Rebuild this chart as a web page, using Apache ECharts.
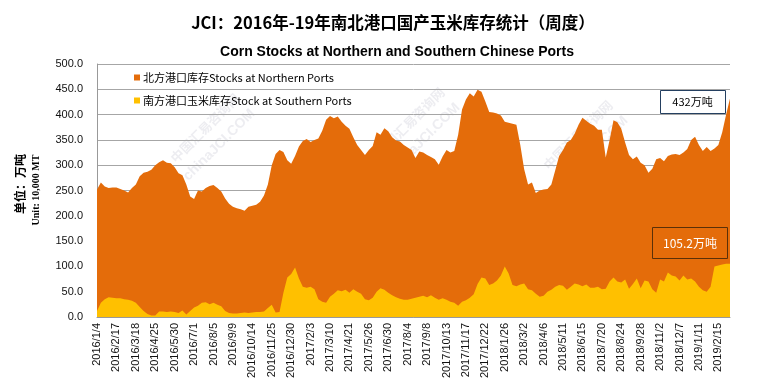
<!DOCTYPE html>
<html>
<head>
<meta charset="utf-8">
<script src="https://cdn.jsdelivr.net/npm/echarts@6/dist/echarts.min.js"></script>
<style>
html,body{margin:0;padding:0;background:#fff;}
#chart{width:757px;height:389px;}
</style>
</head>
<body>
<div id="chart"></div>
<script>
const tickLabels = ['2016/1/4','2016/2/17','2016/3/18','2016/4/25','2016/5/30','2016/7/1','2016/8/5','2016/9/9','2016/10/14','2016/11/25','2016/12/30','2017/2/3','2017/3/10','2017/4/21','2017/5/26','2017/6/30','2017/8/4','2017/9/8','2017/10/13','2017/11/17','2017/12/22','2018/1/26','2018/3/2','2018/4/6','2018/5/11','2018/6/15','2018/7/20','2018/8/24','2018/9/28','2018/11/2','2018/12/7','2019/1/11','2019/2/15'];

const northern = [
252,266,258,255,256,256,253,250,246,255,
262,278,285,287,291,300,306,310,305,304,
296,284,280,262,238,233,250,248,255,259,
261,255,248,234,224,218,215,213,210,218,
220,222,228,240,262,300,322,330,326,310,
303,318,337,348,352,346,350,353,368,390,
397,393,396,386,378,372,355,340,330,320,
330,338,365,360,373,367,355,349,347,340,
335,330,314,327,325,320,316,312,301,317,
330,325,328,360,410,430,442,436,449,445,
426,405,404,402,398,386,384,382,380,340,
292,262,266,245,250,252,253,262,290,318,
330,345,350,362,380,394,388,382,378,370,
370,315,350,389,385,372,345,320,312,317,
305,300,285,293,312,314,308,318,321,322,
320,325,332,350,356,340,328,336,328,333,
340,365,400,432
];

const southern = [
12,28,35,39,38,37,37,35,34,32,
28,20,12,6,3,3,11,11,10,11,
10,8,13,5,12,19,22,28,29,25,
28,24,21,12,8,7,7,8,9,8,
9,10,10,11,18,24,9,10,48,78,
85,98,76,60,58,60,55,35,30,28,
40,46,53,51,54,48,55,50,46,35,
33,38,50,57,54,48,43,39,36,34,
34,36,38,40,42,39,43,38,34,37,
34,30,28,22,30,33,38,45,65,78,
76,63,66,72,82,100,86,63,61,64,
66,55,53,46,40,42,50,54,60,63,
62,54,60,66,64,61,64,58,58,60,
55,56,70,78,70,68,74,56,65,76,
57,72,70,55,48,74,70,88,82,80,
72,82,74,76,70,60,53,50,60,100,
102,104,105,105.2
];

const categories = northern.map((v, i) => i % 5 === 0 ? tickLabels[i / 5] : tickLabels[Math.floor(i / 5)] + '+' + (i % 5) + 'w');

const ORANGE = '#E46C0A';
const YELLOW = '#FFC000';

const chart = echarts.init(document.getElementById('chart'), null, {renderer: 'canvas'});

function watermark(x, y) {
  return {
    type: 'group', x: x, y: y, rotation: Math.PI / 4, silent: true, z: 5,
    children: [
      {type: 'text', style: {text: '中国汇易咨询网', x: 0, y: 0, fill: 'rgba(215,215,225,0.45)', font: 'bold 13px "Noto Sans CJK SC"', align: 'center', verticalAlign: 'middle'}},
      {type: 'text', style: {text: 'chinaJCI.COM', x: -2, y: 22, fill: 'rgba(215,215,225,0.45)', font: 'bold 14px "Liberation Sans"', align: 'center', verticalAlign: 'middle'}}
    ]
  };
}

chart.setOption({
  animation: false,
  backgroundColor: '#fff',
  title: [
    {text: 'JCI：2016年-19年南北港口国产玉米库存统计（周度）', left: 388, top: 9, textAlign: 'center',
     textStyle: {fontSize: 16.5, fontWeight: 'bold', color: '#000', fontFamily: '"Noto Sans CJK SC"'}},
    {text: 'Corn Stocks at Northern and Southern Chinese Ports', left: 392, top: 40, textAlign: 'center',
     textStyle: {fontSize: 14, fontWeight: 'bold', color: '#000', fontFamily: '"Liberation Sans"'}}
  ],
  legend: {
    orient: 'vertical', left: 129, top: 67, itemGap: 12, itemWidth: 6, itemHeight: 6, icon: 'rect',
    textStyle: {fontSize: 11, color: '#000', fontFamily: '"Noto Sans CJK SC"', padding: [0, 0, 0, -2]},
    data: ['北方港口库存Stocks at Northern Ports', '南方港口玉米库存Stock at Southern Ports']
  },
  grid: {left: 97, right: 27, top: 64, bottom: 72, containLabel: false},
  xAxis: {
    type: 'category', data: categories, boundaryGap: false,
    axisLine: {lineStyle: {color: '#999'}},
    axisTick: {show: false},
    axisLabel: {interval: 4, rotate: 90, fontSize: 11, color: '#111', margin: 6, fontFamily: '"Liberation Sans"'}
  },
  yAxis: {
    type: 'value', min: 0, max: 500, interval: 50,
    axisLine: {show: true, lineStyle: {color: '#999'}},
    axisTick: {show: false},
    axisLabel: {fontSize: 11, color: '#111', margin: 14, fontFamily: '"Liberation Sans"', formatter: v => v.toFixed(1)},
    splitLine: {lineStyle: {color: '#a6a6a6', width: 1}}
  },
  series: [
    {name: '北方港口库存Stocks at Northern Ports', type: 'line', data: northern, showSymbol: false, symbol: 'none',
     lineStyle: {width: 0, color: ORANGE}, itemStyle: {color: ORANGE}, areaStyle: {color: ORANGE, opacity: 1}, z: 2},
    {name: '南方港口玉米库存Stock at Southern Ports', type: 'line', data: southern, showSymbol: false, symbol: 'none',
     lineStyle: {width: 0, color: YELLOW}, itemStyle: {color: YELLOW}, areaStyle: {color: YELLOW, opacity: 1}, z: 3}
  ],
  graphic: [
    {type: 'text', x: 20, y: 184, rotation: Math.PI / 2, style: {text: '单位：万吨', font: 'bold 12px "Noto Sans CJK SC"', fill: '#000', align: 'center', verticalAlign: 'middle'}},
    {type: 'text', x: 36, y: 190, rotation: Math.PI / 2, style: {text: 'Unit: 10,000 MT', font: 'bold 10px "Liberation Serif"', fill: '#000', align: 'center', verticalAlign: 'middle'}},
    watermark(205, 128),
    watermark(410, 122),
    watermark(578, 135),
    {type: 'rect', shape: {x: 660.5, y: 90.5, width: 65, height: 23}, style: {fill: '#fff', stroke: '#243F60', lineWidth: 1}, z: 10},
    {type: 'text', x: 692.5, y: 102, style: {text: '432万吨', font: '11px "Noto Sans CJK SC"', fill: '#000', align: 'center', verticalAlign: 'middle'}, z: 11},
    {type: 'rect', shape: {x: 652.5, y: 227.5, width: 75, height: 31}, style: {fill: ORANGE, stroke: '#5a3008', lineWidth: 1}, z: 10},
    {type: 'text', x: 690, y: 243, style: {text: '105.2万吨', font: '12px "Noto Sans CJK SC"', fill: '#fff', align: 'center', verticalAlign: 'middle'}, z: 11}
  ]
});
</script>
</body>
</html>
